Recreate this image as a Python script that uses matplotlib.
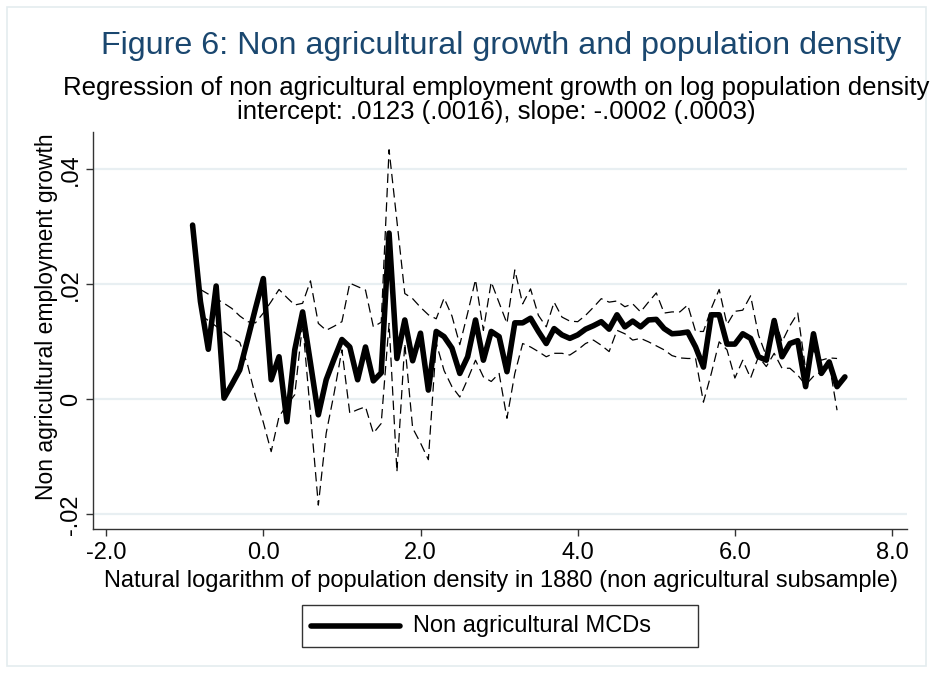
import matplotlib
matplotlib.use("Agg")
import matplotlib.pyplot as plt
from matplotlib.patches import Rectangle
from matplotlib.lines import Line2D

plt.rcParams['font.family'] = ['Liberation Sans', 'DejaVu Sans']

# log population density bins (main series)
log_density = [-0.9, -0.8, -0.7, -0.6, -0.5, -0.4, -0.3, -0.2, -0.1, 0.0,
               0.1, 0.2, 0.3, 0.4, 0.5, 0.6, 0.7, 0.8, 0.9, 1.0,
               1.1, 1.2, 1.3, 1.4, 1.5, 1.6, 1.7, 1.8, 1.9, 2.0,
               2.1, 2.2, 2.3, 2.4, 2.5, 2.6, 2.7, 2.8, 2.9, 3.0,
               3.1, 3.2, 3.3, 3.4, 3.5, 3.6, 3.7, 3.8, 3.9, 4.0,
               4.1, 4.2, 4.3, 4.4, 4.5, 4.6, 4.7, 4.8, 4.9, 5.0,
               5.1, 5.2, 5.3, 5.4, 5.5, 5.6, 5.7, 5.8, 5.9, 6.0,
               6.1, 6.2, 6.3, 6.4, 6.5, 6.6, 6.7, 6.8, 6.9, 7.0,
               7.1, 7.2, 7.3, 7.4]

growth = [0.0303, 0.0170, 0.0087, 0.0197, 0.0002, 0.0026, 0.0051, 0.0104, 0.0158, 0.0210,
          0.0034, 0.0074, -0.0039, 0.0086, 0.0152, 0.0063, -0.0027, 0.0034, 0.0070, 0.0104,
          0.0091, 0.0034, 0.0091, 0.0032, 0.0046, 0.0289, 0.0071, 0.0138, 0.0067, 0.0115,
          0.0016, 0.0118, 0.0109, 0.0089, 0.0045, 0.0074, 0.0138, 0.0068, 0.0118, 0.0109,
          0.0048, 0.0133, 0.0133, 0.0141, 0.0118, 0.0097, 0.0123, 0.0112, 0.0106, 0.0112,
          0.0122, 0.0128, 0.0135, 0.0122, 0.0147, 0.0126, 0.0136, 0.0126, 0.0138, 0.0139,
          0.0123, 0.0114, 0.0115, 0.0117, 0.0091, 0.0056, 0.0147, 0.0147, 0.0096, 0.0096,
          0.0114, 0.0106, 0.0074, 0.0068, 0.0137, 0.0074, 0.0097, 0.0102, 0.0022, 0.0114,
          0.0045, 0.0065, 0.0022, 0.0039]

# dashed bands cover -0.8 .. 7.3
band_density = log_density[1:-1]

upper = [0.0191, 0.0183, 0.0175, 0.0167, 0.0158, 0.0145, 0.0135, 0.0133, 0.0150, 0.0170,
         0.0191, 0.0177, 0.0164, 0.0167, 0.0206, 0.0132, 0.0120, 0.0127, 0.0135, 0.0202,
         0.0196, 0.0190, 0.0126, 0.0134, 0.0434, 0.0310, 0.0184, 0.0175, 0.0160, 0.0147,
         0.0140, 0.0176, 0.0145, 0.0095, 0.0150, 0.0208, 0.0120, 0.0204, 0.0168, 0.0132,
         0.0225, 0.0166, 0.0192, 0.0146, 0.0126, 0.0169, 0.0143, 0.0136, 0.0135, 0.0146,
         0.0160, 0.0175, 0.0169, 0.0171, 0.0161, 0.0166, 0.0152, 0.0169, 0.0185, 0.0150,
         0.0152, 0.0152, 0.0164, 0.0118, 0.0118, 0.0158, 0.0191, 0.0130, 0.0153, 0.0155,
         0.0180, 0.0112, 0.0075, 0.0145, 0.0100, 0.0128, 0.0150, 0.0052, 0.0085, 0.0068,
         0.0072, 0.0071]

lower = [0.0147, 0.0137, 0.0127, 0.0117, 0.0107, 0.0099, 0.0060, 0.0005, -0.0040, -0.0091,
         -0.0030, -0.0010, 0.0008, 0.0132, -0.0025, -0.0184, -0.0059, 0.0010, 0.0086, -0.0024,
         -0.0018, -0.0013, -0.0059, -0.0042, 0.0132, -0.0126, 0.0097, -0.0050, -0.0076, -0.0105,
         0.0098, 0.0050, 0.0022, 0.0004, 0.0035, 0.0068, 0.0039, 0.0031, 0.0045, -0.0033,
         0.0045, 0.0097, 0.0091, 0.0083, 0.0074, 0.0080, 0.0080, 0.0077, 0.0086, 0.0097,
         0.0103, 0.0094, 0.0083, 0.0120, 0.0114, 0.0103, 0.0106, 0.0100, 0.0093, 0.0086,
         0.0076, 0.0072, 0.0071, 0.0071, -0.0005, 0.0045, 0.0100, 0.0086, 0.0037, 0.0068,
         0.0037, 0.0074, 0.0057, 0.0080, 0.0054, 0.0054, 0.0042, 0.0025, 0.0040, 0.0048,
         0.0062, -0.0019]

x_ticks = [-2.0, 0.0, 2.0, 4.0, 6.0, 8.0]
x_tick_labels = ['-2.0', '0.0', '2.0', '4.0', '6.0', '8.0']
y_ticks = [-0.02, 0.0, 0.02, 0.04]
y_tick_labels = ['-.02', '0', '.02', '.04']

title = 'Figure 6: Non agricultural growth and population density'
subtitle = ('Regression of non agricultural employment growth on log population density\n'
            'intercept: .0123 (.0016), slope: -.0002 (.0003)')
x_title = 'Natural logarithm of population density in 1880 (non agricultural subsample)'
y_title = 'Non agricultural employment growth'
series_label = 'Non agricultural MCDs'

W, H = 933, 673
fig = plt.figure(figsize=(W / 100, H / 100), dpi=100, facecolor='white')

def fx(px):
    return px / W

def fy(py):
    return 1 - py / H

# faint outer frame of the graph region
fig.patches.append(Rectangle((fx(7), fy(666)), fx(919), 659 / H, transform=fig.transFigure,
                             fill=False, edgecolor='#E4ECEF', lw=1.2))

ax = fig.add_axes([fx(93), fy(528.5), fx(907) - fx(93), fy(132) - fy(528.5)])
ax.set_xlim(-2.167, 8.19)
ax.set_ylim(-0.02247, 0.04649)

ax.plot(band_density, upper, color='black', lw=0.9, dashes=(7.5, 4))
ax.plot(band_density, lower, color='black', lw=0.9, dashes=(7.5, 4))
ax.plot(log_density, growth, color='black', lw=4, solid_joinstyle='round', solid_capstyle='round')

ax.set_xticks(x_ticks)
ax.set_xticklabels(x_tick_labels)
ax.set_yticks(y_ticks)
ax.set_yticklabels(y_tick_labels, rotation=90, va='center')
ax.tick_params(axis='both', direction='out', length=5, width=1, color='#333333',
               labelsize=17)
ax.tick_params(axis='x', pad=5)
ax.tick_params(axis='y', pad=3)
ax.yaxis.grid(True, color='#E8EFF2', lw=1.6)
ax.set_axisbelow(True)
for s in ['top', 'right']:
    ax.spines[s].set_visible(False)
for s in ['left', 'bottom']:
    ax.spines[s].set_color('#333333')
    ax.spines[s].set_linewidth(1)

fig.text(fx(501), fy(46), title, ha='center', va='center', fontsize=23.2, color='#1A476F')
fig.text(fx(496), fy(100), subtitle, ha='center', va='center', fontsize=18.5,
         linespacing=0.95)
fig.text(fx(501), fy(581), x_title, ha='center', va='center', fontsize=17)
fig.text(fx(47), fy(317), y_title, ha='center', va='center', rotation=90, fontsize=16.5)

# legend box
fig.patches.append(Rectangle((fx(302), fy(647)), fx(396), 42 / H, transform=fig.transFigure,
                             fill=False, edgecolor='#333333', lw=1))
fig.add_artist(Line2D([fx(311), fx(400)], [fy(626), fy(626)], transform=fig.transFigure,
                      color='black', lw=4, solid_capstyle='round'))
fig.text(fx(413), fy(626), series_label, ha='left', va='center', fontsize=17)

fig.savefig('out.png', dpi=100, facecolor='white')
